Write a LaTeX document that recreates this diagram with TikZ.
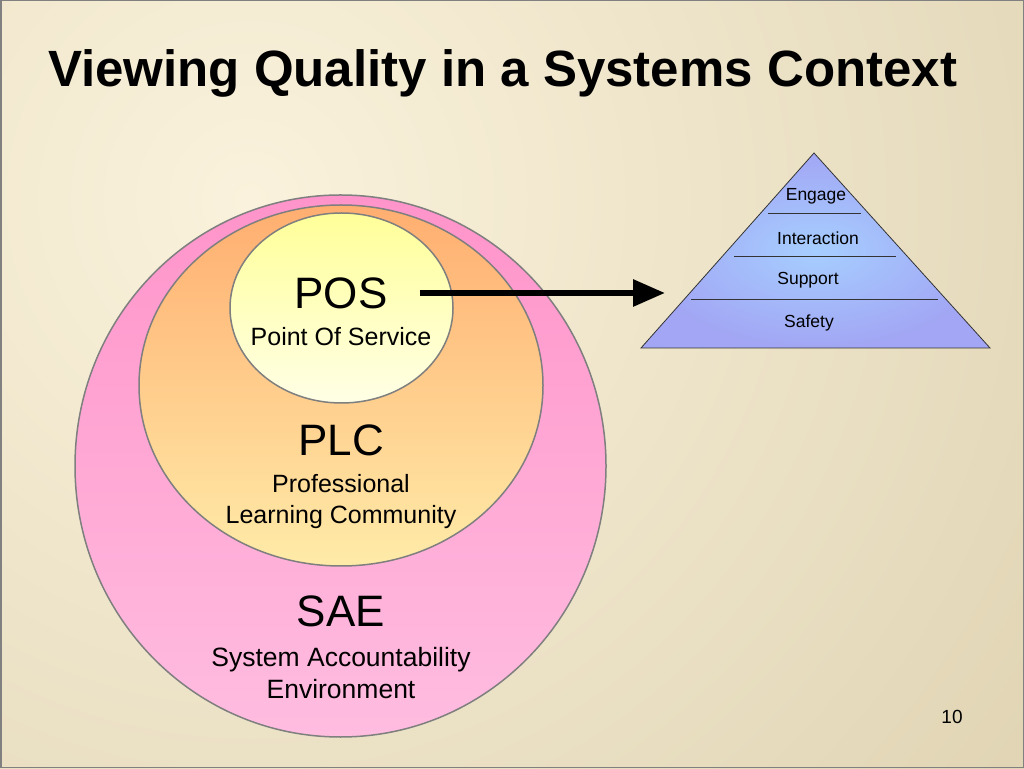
\documentclass[tikz,border=0pt]{standalone}
\usepackage{fontspec}
\setmainfont{Liberation Sans}
\usetikzlibrary{shapes.geometric, arrows.meta, positioning}
\definecolor{slidelight}{HTML}{FAF2DC}
\definecolor{slidedark}{HTML}{D2C49E}
\definecolor{saetop}{HTML}{FF94CA}
\definecolor{saebottom}{HTML}{FFBDE0}
\definecolor{plctop}{HTML}{FFAE70}
\definecolor{plcbottom}{HTML}{FFEBA8}
\definecolor{postop}{HTML}{FFFF99}
\definecolor{posbottom}{HTML}{FFFFE6}
\definecolor{pyredge}{HTML}{A2A6F4}
\definecolor{pyrmid}{HTML}{A6CEFF}
\definecolor{ringline}{HTML}{7F7F7F}

\begin{document}
\begin{tikzpicture}[x=1pt, y=1pt]
\tikzstyle{ring} = [ellipse, draw=ringline, line width=1.5pt, inner sep=0pt]
\tikzstyle{bigname} = [inner sep=0pt, font=\fontsize{44}{44}\selectfont]
\tikzstyle{longname} = [inner sep=0pt, align=center, font=\fontsize{25}{31}\selectfont]
\tikzstyle{level} = [inner sep=0pt, font=\fontsize{17.5}{17.5}\selectfont]
\tikzstyle{pointer} = [line width=6pt, -{Triangle[length=32pt, width=26pt]}]

\useasboundingbox (0,0) rectangle (1024,768);
% slide background
\begin{scope}
\clip (0,0) rectangle (1024,768);
\shade[inner color=slidelight, outer color=slidedark] (250,568) circle [radius=1500];
\end{scope}
\draw[gray, line width=1.5pt] (0.75,0.75) rectangle (1023.25,767.25);

\node (title) [anchor=base west, inner sep=0pt, font=\fontsize{51}{51}\selectfont\bfseries] at (48,681) {Viewing Quality in a Systems Context};

% nested rings
\node (sae) [ring, minimum width=531pt, minimum height=542pt, top color=saetop, bottom color=saebottom] at (340.5,302) {};
\node (plc) [ring, minimum width=404pt, minimum height=361pt, top color=plctop, bottom color=plcbottom] at (341,382.5) {};
\node (pos) [ring, minimum width=223pt, minimum height=190pt, top color=postop, bottom color=posbottom] at (341.5,460) {};

\node (posname) [bigname] at (341,475) {POS};
\node (posfull) [longname, below=18pt of posname] {Point Of Service};
\node (plcname) [bigname] at (341,328) {PLC};
\node (plcfull) [longname, below=18pt of plcname] {Professional\\Learning Community};
\node (saename) [bigname] at (341,157) {SAE};
\node (saefull) [longname, below=20pt of saename, font=\fontsize{26.5}{32}\selectfont] {System Accountability\\Environment};

% pyramid
\coordinate (apex) at (814,615);
\coordinate (baseL) at (641,420);
\coordinate (baseR) at (990,420);
\shade[inner color=pyrmid, outer color=pyredge, draw=black!80, line width=0.8pt] (apex) -- (baseL) -- (baseR) -- cycle;
\draw[black!80, line width=0.8pt] (768,555) -- (861,555);
\draw[black!80, line width=0.8pt] (734,512) -- (896,512);
\draw[black!80, line width=0.8pt] (691,469) -- (938,469);
\node (engage) [level] at (816,572) {Engage};
\node (interaction) [level] at (818,530) {Interaction};
\node (support) [level] at (808,488) {Support};
\node (safety) [level] at (809,445) {Safety};

\coordinate (arrowtip) at (665,475);
\draw[pointer, shorten <=32pt] (posname.east) -- (arrowtip);

\node (pagenum) [inner sep=0pt, font=\fontsize{19}{19}\selectfont] at (952,51) {10};
\end{tikzpicture}
\end{document}
